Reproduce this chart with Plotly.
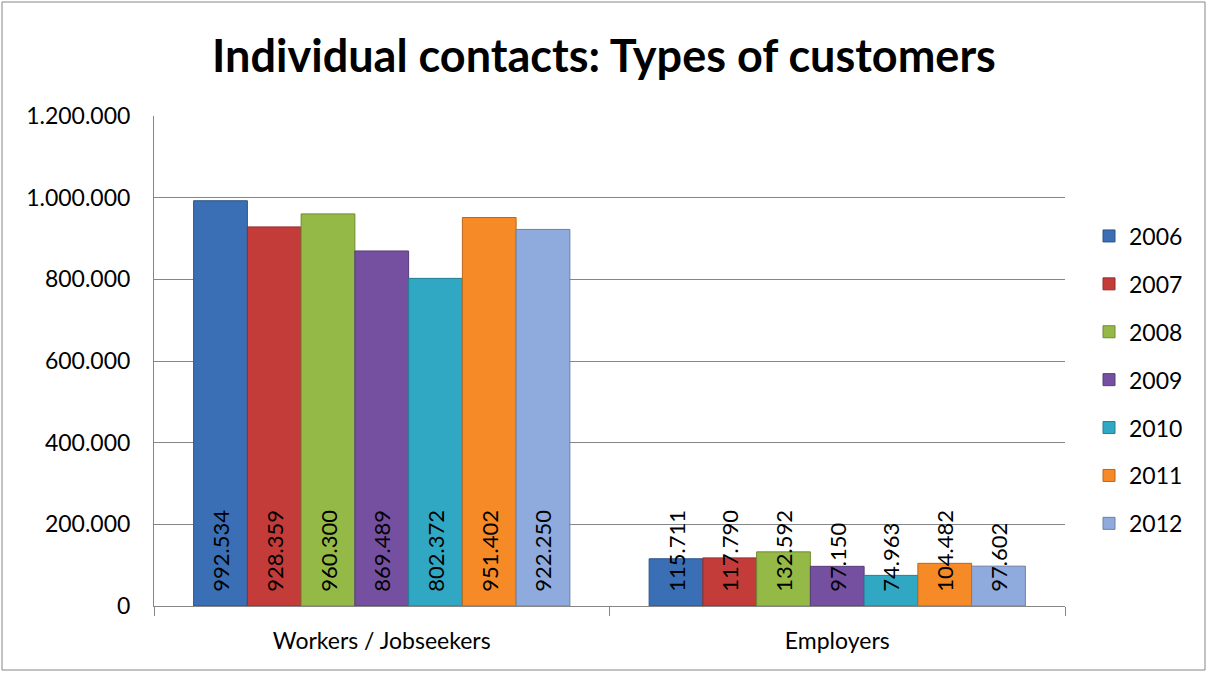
import plotly.graph_objects as go

categories = ["Workers / Jobseekers", "Employers"]
years = ["2006", "2007", "2008", "2009", "2010", "2011", "2012"]
values = {
    "2006": [992534, 115711],
    "2007": [928359, 117790],
    "2008": [960300, 132592],
    "2009": [869489, 97150],
    "2010": [802372, 74963],
    "2011": [951402, 104482],
    "2012": [922250, 97602],
}
colors = ["#3A6FB5", "#C43C39", "#95B946", "#7650A0", "#31A8C3", "#F68A26", "#8FAADC"]
edges = ["#2B5488", "#932D2B", "#6F8A34", "#583C78", "#247E92", "#B8671C", "#6B80A5"]

W, H = 1208, 673
L, R, T, B = 154, 143, 116, 67
font = "Lato, 'Open Sans', sans-serif"

fig = go.Figure()
for i, y in enumerate(years):
    fig.add_trace(go.Bar(
        x=categories, y=values[y], name=y,
        marker=dict(color=colors[i], line=dict(color=edges[i], width=1)),
        texttemplate="\u00a0\u00a0%{y:,d}", textposition="inside", insidetextanchor="start",
        textangle=-90, constraintext="none",
        textfont=dict(family=font, size=22, color="black"),
        legendgroup=y,
    ))

pw, ph = W - L - R, H - T - B
fig.update_layout(
    width=W, height=H,
    margin=dict(l=L, r=R, t=T, b=B),
    paper_bgcolor="white", plot_bgcolor="white",
    separators=",.",
    barmode="group", bargap=0.174, bargroupgap=0,
    font=dict(family=font, size=23, color="black"),
    title=dict(text="<b>Individual contacts: Types of customers</b>",
               x=0.5, xanchor="center", y=1 - 56 / H, yanchor="middle",
               font=dict(family=font, size=45, color="black")),
    xaxis=dict(showline=True, linecolor="#868686", linewidth=1,
               ticks="outside", tickson="boundaries", ticklen=9, tickcolor="#868686",
               ticklabelstandoff=14,
               tickfont=dict(size=23), showgrid=False),
    yaxis=dict(range=[0, 1200000], dtick=200000, tickformat=",d",
               showline=True, linecolor="#868686", linewidth=1,
               ticks="", ticklabelstandoff=18,
               showgrid=True, gridcolor="#868686", gridwidth=1,
               tickfont=dict(size=23), zeroline=False),
    legend=dict(x=(1089 - L) / pw, xanchor="left", y=(606 - 380) / ph, yanchor="middle",
                tracegroupgap=15, font=dict(size=23), bgcolor="rgba(0,0,0,0)"),
    showlegend=True,
    shapes=[dict(type="rect", xref="paper", yref="paper",
                 x0=(2 - L) / pw, x1=(1205 - L) / pw,
                 y0=(606 - 670) / ph, y1=(606 - 2) / ph,
                 line=dict(color="#868686", width=1), layer="below")],
)
fig.write_html("out.html")
